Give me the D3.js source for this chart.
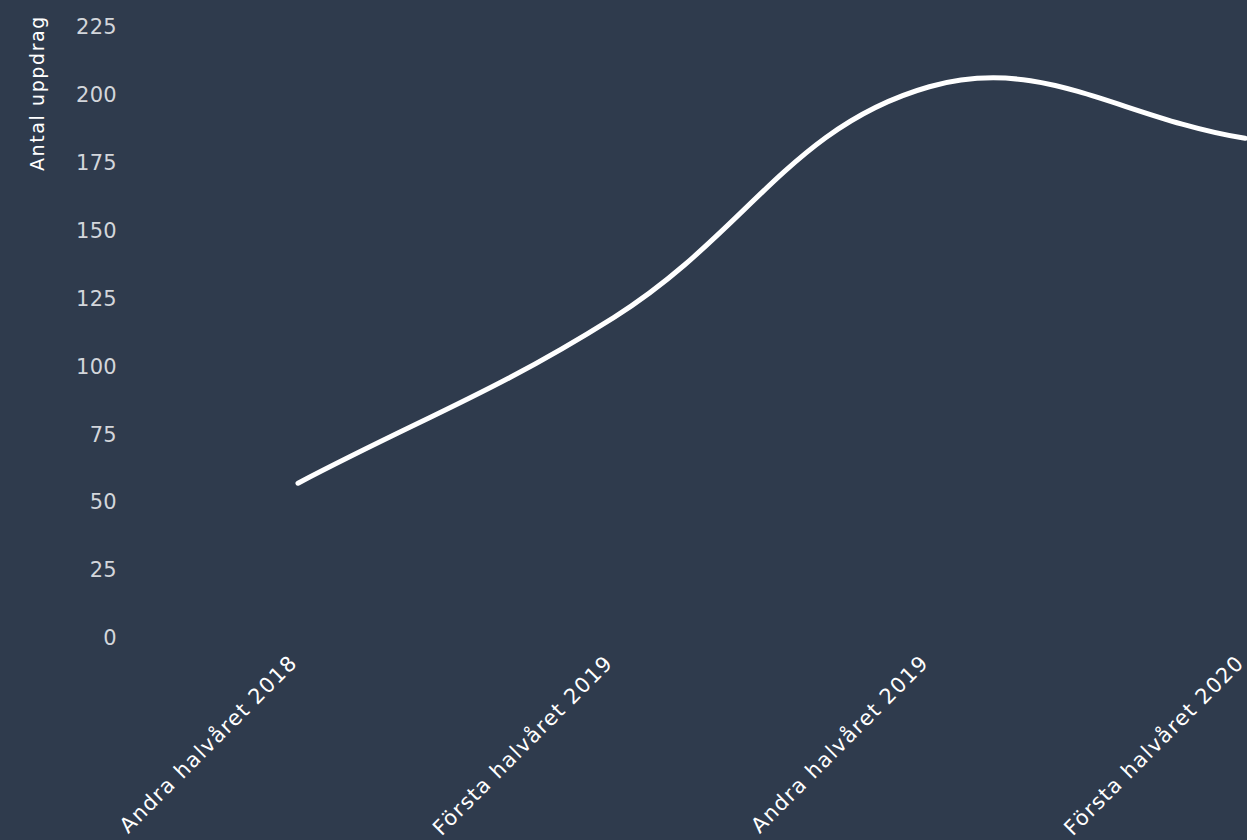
<!DOCTYPE html>
<html>
<head>
<meta charset="utf-8">
<script src="https://cdn.jsdelivr.net/npm/d3@7"></script>
<style>
  html, body { margin: 0; padding: 0; background: #2f3b4d; }
  svg { display: block; }
</style>
</head>
<body>
<svg id="chart" width="1247" height="840"></svg>
<script>
// data
const periods = ["Andra halvåret 2018", "Första halvåret 2019", "Andra halvåret 2019", "Första halvåret 2020"];
const uppdrag = [57, 118, 203, 184];
const yTicks = [0, 25, 50, 75, 100, 125, 150, 175, 200, 225];
const yTitle = "Antal uppdrag";

const width = 1247, height = 840;
const font = "'DejaVu Sans', sans-serif";

const svg = d3.select("#chart");
svg.append("rect").attr("width", width).attr("height", height).attr("fill", "#2f3b4d");

const x = d3.scalePoint().domain(periods).range([298, 1245]);
const y = d3.scaleLinear().domain([0, 225]).range([638, 27]);

// y axis (labels only)
const yAxis = svg.append("g")
  .attr("transform", "translate(117,0)")
  .call(d3.axisLeft(y).tickValues(yTicks).tickSize(0).tickPadding(0));
yAxis.select(".domain").remove();
yAxis.selectAll("text")
  .attr("fill", "#d3d6db")
  .style("font-family", font)
  .style("font-size", "21px")
  .style("letter-spacing", "0.3px");

svg.append("text")
  .attr("transform", "translate(44,15) rotate(-90)")
  .attr("text-anchor", "end")
  .attr("fill", "#ffffff")
  .style("font-family", font)
  .style("font-size", "19px")
  .style("letter-spacing", "1.6px")
  .text(yTitle);

// x axis labels, rotated
const xAxis = svg.append("g")
  .attr("transform", "translate(0,650)")
  .call(d3.axisBottom(x).tickSize(0).tickPadding(0));
xAxis.select(".domain").remove();
xAxis.selectAll("text")
  .attr("text-anchor", "end")
  .attr("dy", 0)
  .attr("transform", "translate(0,14) rotate(-45)")
  .attr("fill", "#ffffff")
  .style("font-family", font)
  .style("font-size", "21px")
  .style("letter-spacing", "1.3px")
  .style("font-weight", 500);

// tension-style spline through scaled points
const pts = uppdrag.map((v, i) => [x(periods[i]), y(v)]);
function splinePath(p, t) {
  const path = d3.path();
  const cps = p.map((cur, i) => {
    const prev = p[Math.max(0, i - 1)];
    const next = p[Math.min(p.length - 1, i + 1)];
    const d01 = Math.hypot(cur[0] - prev[0], cur[1] - prev[1]);
    const d12 = Math.hypot(next[0] - cur[0], next[1] - cur[1]);
    const s01 = d01 / (d01 + d12 || 1);
    const s12 = d12 / (d01 + d12 || 1);
    const fa = t * s01, fb = t * s12;
    return {
      prev: [cur[0] - fa * (next[0] - prev[0]), cur[1] - fa * (next[1] - prev[1])],
      next: [cur[0] + fb * (next[0] - prev[0]), cur[1] + fb * (next[1] - prev[1])]
    };
  });
  path.moveTo(p[0][0], p[0][1]);
  for (let i = 1; i < p.length; i++) {
    path.bezierCurveTo(cps[i - 1].next[0], cps[i - 1].next[1], cps[i].prev[0], cps[i].prev[1], p[i][0], p[i][1]);
  }
  return path.toString();
}

svg.append("path")
  .attr("d", splinePath(pts, 0.4))
  .attr("fill", "none")
  .attr("stroke", "#ffffff")
  .attr("stroke-width", 5)
  .attr("stroke-linecap", "round");
</script>
</body>
</html>
